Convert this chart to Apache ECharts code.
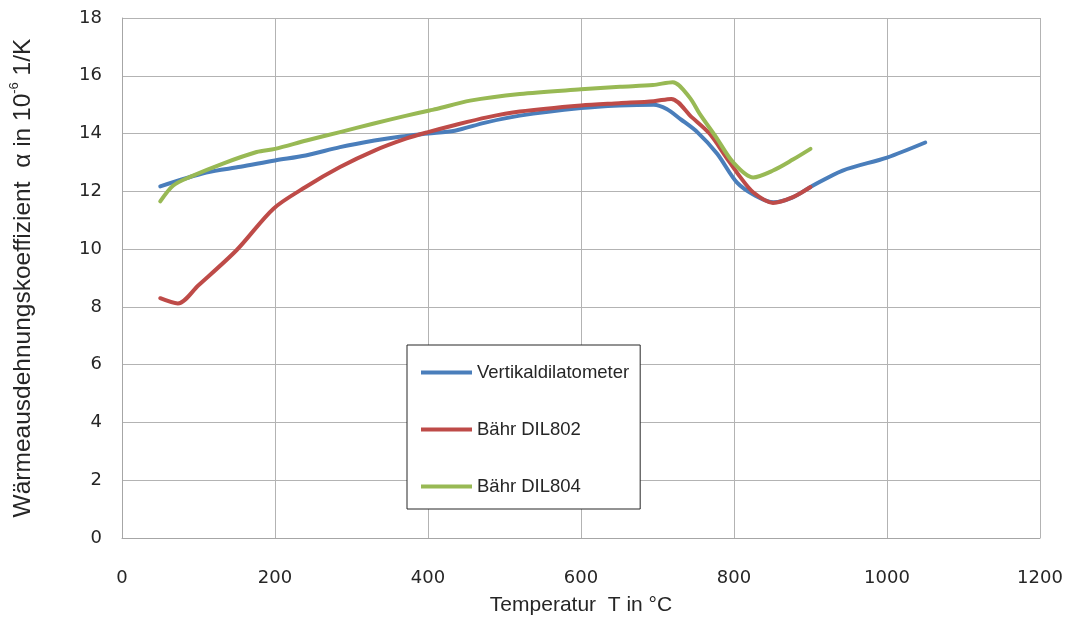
<!DOCTYPE html>
<html>
<head>
<meta charset="utf-8">
<title>Wärmeausdehnungskoeffizient</title>
<script src="https://cdn.jsdelivr.net/npm/echarts@6/dist/echarts.min.js"></script>
<style>
  html, body { margin: 0; padding: 0; background: #ffffff; }
  #chart { width: 1070px; height: 621px; }
</style>
</head>
<body>
<div id="chart"></div>
<script>
// Temperatur (°C) und Wärmeausdehnungskoeffizient (10^-6 1/K) je Messgerät
const vertikalT = [50, 110, 155, 200, 240, 285, 330, 365, 400, 435, 475, 520, 600, 650, 695, 712, 730, 752, 778, 804, 828, 852, 876, 900, 942, 1000, 1050];
const vertikalA = [12.17, 12.65, 12.85, 13.07, 13.24, 13.53, 13.76, 13.9, 14.0, 14.1, 14.38, 14.62, 14.88, 14.97, 15.0, 14.85, 14.5, 14.05, 13.3, 12.3, 11.85, 11.62, 11.78, 12.15, 12.72, 13.17, 13.69];

const dil802T = [50, 73, 100, 150, 198, 240, 285, 330, 372, 400, 433, 477, 520, 600, 650, 695, 718, 745, 768, 790, 808, 825, 851, 877, 900];
const dil802A = [8.3, 8.12, 8.75, 9.97, 11.4, 12.15, 12.84, 13.41, 13.83, 14.05, 14.28, 14.56, 14.76, 14.97, 15.05, 15.12, 15.2, 14.56, 14.0, 13.17, 12.5, 11.97, 11.6, 11.8, 12.15];

const dil804T = [50, 67, 89, 132, 176, 200, 241, 285, 328, 372, 402, 411, 455, 520, 600, 651, 694, 720, 742, 755, 777, 799, 825, 851, 877, 900];
const dil804A = [11.65, 12.2, 12.5, 12.96, 13.36, 13.47, 13.76, 14.05, 14.34, 14.62, 14.8, 14.85, 15.14, 15.37, 15.53, 15.62, 15.68, 15.78, 15.25, 14.69, 13.86, 13.0, 12.48, 12.72, 13.1, 13.47];

const seriesNames = ['Vertikaldilatometer', 'Bähr DIL802', 'Bähr DIL804'];
const seriesColors = ['#4a7ebb', '#be4b48', '#98b954'];

const xTicks = { min: 0, max: 1200, step: 200 };
const yTicks = { min: 0, max: 18, step: 2 };

const TEXT_FONT = '"Liberation Sans", Arial, sans-serif';
const TICK_FONT = '"DejaVu Sans", Verdana, sans-serif';
const INK = '#262626';

function pairs(ts, vs) {
  return ts.map((t, i) => [t, vs[i]]);
}

const seriesData = [
  pairs(vertikalT, vertikalA),
  pairs(dil802T, dil802A),
  pairs(dil804T, dil804A)
];

const chart = echarts.init(document.getElementById('chart'), null, { renderer: 'canvas' });

const gridLine = { show: true, lineStyle: { color: '#b3b3b3', width: 1 } };
const tickLabel = { fontFamily: TICK_FONT, fontSize: 18, color: INK, formatter: v => String(v) };

chart.setOption({
  animation: false,
  backgroundColor: '#ffffff',
  textStyle: { fontFamily: TEXT_FONT },
  grid: { left: 122, right: 30, top: 18, bottom: 82, containLabel: false },
  xAxis: {
    type: 'value',
    min: xTicks.min,
    max: xTicks.max,
    interval: xTicks.step,
    name: 'Temperatur  T in °C',
    nameLocation: 'middle',
    nameGap: 57,
    nameTextStyle: { fontFamily: TEXT_FONT, fontSize: 21, color: INK },
    axisLine: { show: true, lineStyle: { color: '#a6a6a6', width: 1 } },
    axisTick: { show: false },
    axisLabel: Object.assign({ margin: 31 }, tickLabel),
    splitLine: gridLine
  },
  yAxis: {
    type: 'value',
    min: yTicks.min,
    max: yTicks.max,
    interval: yTicks.step,
    name: '{t|Wärmeausdehnungskoeffizient  α in 10}{s|-6}{t| 1/K}',
    nameLocation: 'middle',
    nameGap: 86,
    nameRotate: 90,
    nameTextStyle: {
      fontFamily: TEXT_FONT,
      color: INK,
      rich: {
        t: { fontFamily: TEXT_FONT, fontSize: 24.5, color: INK, verticalAlign: 'bottom', lineHeight: 28 },
        s: { fontFamily: TEXT_FONT, fontSize: 13, color: INK, verticalAlign: 'top', lineHeight: 28, padding: [0, 0, 10, 0] }
      }
    },
    axisLine: { show: true, lineStyle: { color: '#a6a6a6', width: 1 } },
    axisTick: { show: false },
    axisLabel: Object.assign({ margin: 20 }, tickLabel),
    splitLine: gridLine
  },
  legend: {
    orient: 'vertical',
    left: 407,
    top: 345,
    data: seriesNames,
    icon: 'rect',
    itemWidth: 51,
    itemHeight: 4,
    itemGap: 38,
    padding: [18, 11, 13, 14],
    borderColor: INK,
    borderWidth: 1,
    backgroundColor: '#ffffff',
    textStyle: { fontFamily: TEXT_FONT, fontSize: 18.5, color: INK }
  },
  series: seriesNames.map((name, i) => ({
    name: name,
    type: 'line',
    data: seriesData[i],
    smooth: 0.3,
    showSymbol: false,
    symbol: 'none',
    color: seriesColors[i],
    lineStyle: { color: seriesColors[i], width: 4, cap: 'round', join: 'round' },
    z: 2 + i
  }))
});
</script>
</body>
</html>
